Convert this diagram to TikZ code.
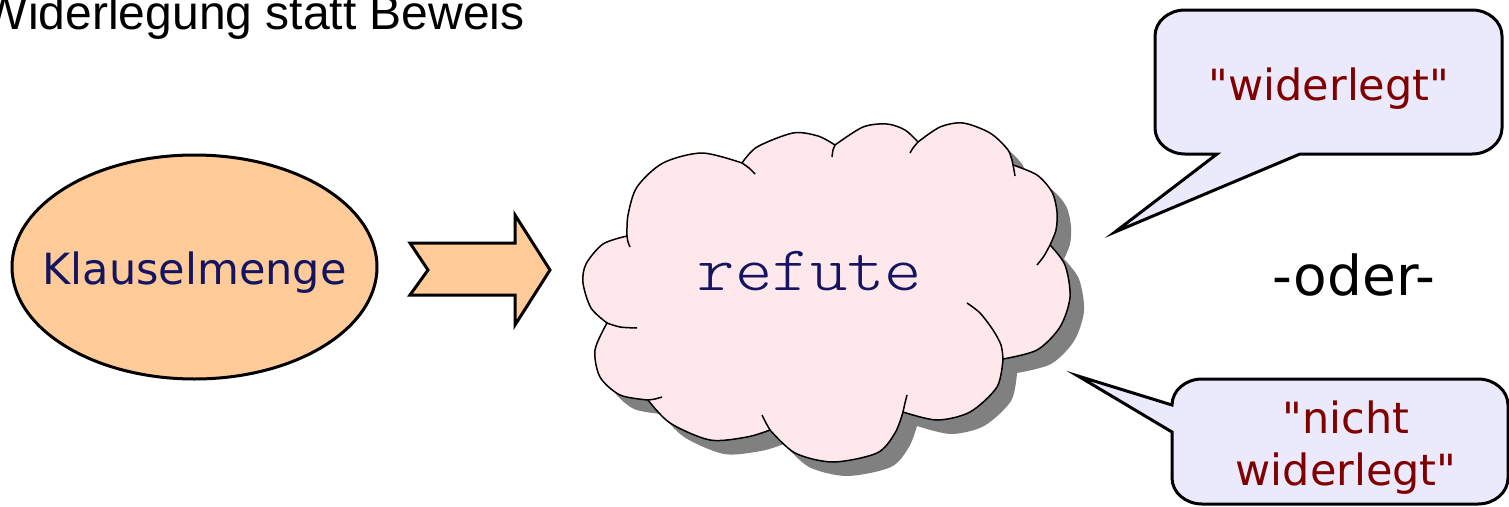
\documentclass[tikz,border=0pt]{standalone}
\usepackage{fontspec}
\usetikzlibrary{shapes.geometric}
\newfontfamily\verdfont{DejaVu Sans}
\newfontfamily\arialfont{Liberation Sans}
\newfontfamily\courfont[FakeStretch=1.12]{lmmonolt10-regular.otf}
\definecolor{orangefill}{RGB}{255,204,153}
\definecolor{cloudfill}{RGB}{255,232,235}
\definecolor{calloutfill}{RGB}{235,233,252}
\definecolor{navytext}{RGB}{20,20,96}
\definecolor{redtext}{RGB}{128,0,0}
\definecolor{shadowgray}{RGB}{128,128,128}
\newcommand\cloudoutline{%
 plot[smooth] coordinates {(627,236) (628,215) (637,187) (663,163) (702,153) (742,163)}
 -- plot[smooth] coordinates {(742,163) (757,147) (793,133) (818,136) (835,145)}
 -- plot[smooth] coordinates {(835,145) (863,127) (887,124) (905,130) (918,142)}
 -- plot[smooth] coordinates {(918,142) (940,127) (963,123) (990,133) (1008,150) (1013,165)}
 -- plot[smooth] coordinates {(1013,165) (1037,175) (1052,192) (1057,212) (1056,230) (1050,245)}
 -- plot[smooth] coordinates {(1050,245) (1065,265) (1070,297) (1060,327) (1037,350) (1003,359)}
 -- plot[smooth] coordinates {(1003,359) (997,387) (970,412) (937,420) (903,412)}
 -- plot[smooth] coordinates {(903,412) (895,433) (877,453) (833,462) (795,453) (770,430)}
 -- plot[smooth] coordinates {(770,430) (747,437) (710,440) (670,423) (648,400)}
 -- plot[smooth] coordinates {(648,400) (620,395) (600,377) (595,350) (607,323)}
 -- plot[smooth] coordinates {(607,323) (591,308) (583,283) (586,264) (603,244) (627,236)}
 -- cycle}
\begin{document}
\begin{tikzpicture}[x=1pt,y=-1pt,
  txt/.style={inner sep=0pt, outer sep=0pt, anchor=base},
  bigsans/.style={font=\verdfont\fontsize{43}{52}\selectfont},
  blockshape/.style={draw=black, fill=orangefill, line width=3pt, line join=miter},
  calloutshape/.style={draw=black, fill=calloutfill, line width=3pt, line join=miter},
  cloudline/.style={draw=black, line width=1.5pt, line join=miter},
  ellipsenode/.style={ellipse, draw=black, fill=orangefill, line width=3pt,
     minimum width=365pt, minimum height=224pt, inner sep=0pt}]
\useasboundingbox (0,0) rectangle (1509,506);

% title
\node[txt, anchor=base west, font=\arialfont\fontsize{48}{56}\selectfont] (title) at (-17,29) {Widerlegung statt Beweis};

% Klauselmenge ellipse
\node[ellipsenode] (klausel) at (194.5,267) {};
\node[txt, bigsans, text=navytext] (klauseltext) at (194.5,284) {Klauselmenge};

% block arrow
\draw[blockshape] (410,243) -- (515,243) -- (515,215) -- (550,270) -- (515,325)
   -- (515,295) -- (410,295) -- (428,270) -- cycle;

% cloud shadow and cloud
\begin{scope}[shift={(14,14)}]
  \fill[shadowgray] \cloudoutline;
\end{scope}
\fill[cloudfill] \cloudoutline;
\draw[cloudline] \cloudoutline;
% inner hooks of the cloud
\draw[cloudline] plot[smooth] coordinates {(627,236) (628,242) (630,247)};
\draw[cloudline] plot[smooth] coordinates {(607,323) (620,327) (637,328)};
\draw[cloudline] plot[smooth] coordinates {(648,400) (655,399) (662,397)};
\draw[cloudline] plot[smooth] coordinates {(770,430) (766,423) (762,415)};
\draw[cloudline] plot[smooth] coordinates {(903,412) (905,403) (907,395)};
\draw[cloudline] plot[smooth] coordinates {(1003,359) (1001,345) (993,330) (980,313) (967,303)};
\draw[cloudline] plot[smooth] coordinates {(1050,245) (1044,256) (1037,265)};
\draw[cloudline] plot[smooth] coordinates {(1013,165) (1014,170) (1015,176)};
\draw[cloudline] plot[smooth] coordinates {(918,142) (913,148) (910,153)};
\draw[cloudline] plot[smooth] coordinates {(835,145) (833,150) (832,157)};
\draw[cloudline] plot[smooth] coordinates {(742,163) (749,168) (755,174)};
\node[txt, font=\courfont\fontsize{63.5}{70}\selectfont, text=navytext] (refute) at (810,290) {refute};

% callout 1
\draw[calloutshape] (1300,154) -- (1472,154)
   arc[start angle=90,end angle=0,x radius=30,y radius=26] -- (1502,36)
   arc[start angle=0,end angle=-90,x radius=30,y radius=26] -- (1185,10)
   arc[start angle=-90,end angle=-180,x radius=30,y radius=26] -- (1155,128)
   arc[start angle=180,end angle=90,x radius=30,y radius=26] -- (1217,154)
   -- (1115,232) -- cycle;
\node[txt, bigsans, text=redtext] (w1) at (1329,100) {"widerlegt"};

% oder
\node[txt, font=\verdfont\fontsize{55}{64}\selectfont] (oder) at (1354,295) {-oder-};

% callout 2
\draw[calloutshape] (1078,376) -- (1172,432) -- (1172,478)
   arc[start angle=180,end angle=90,x radius=30,y radius=26] -- (1478,504)
   arc[start angle=90,end angle=0,x radius=30,y radius=26] -- (1508,405)
   arc[start angle=0,end angle=-90,x radius=30,y radius=26] -- (1202,379)
   arc[start angle=-90,end angle=-180,x radius=30,y radius=26] -- cycle;
\node[txt, bigsans, text=redtext] (w2a) at (1346,433) {"nicht};
\node[txt, bigsans, text=redtext] (w2b) at (1346,485) {widerlegt"};
\end{tikzpicture}
\end{document}
